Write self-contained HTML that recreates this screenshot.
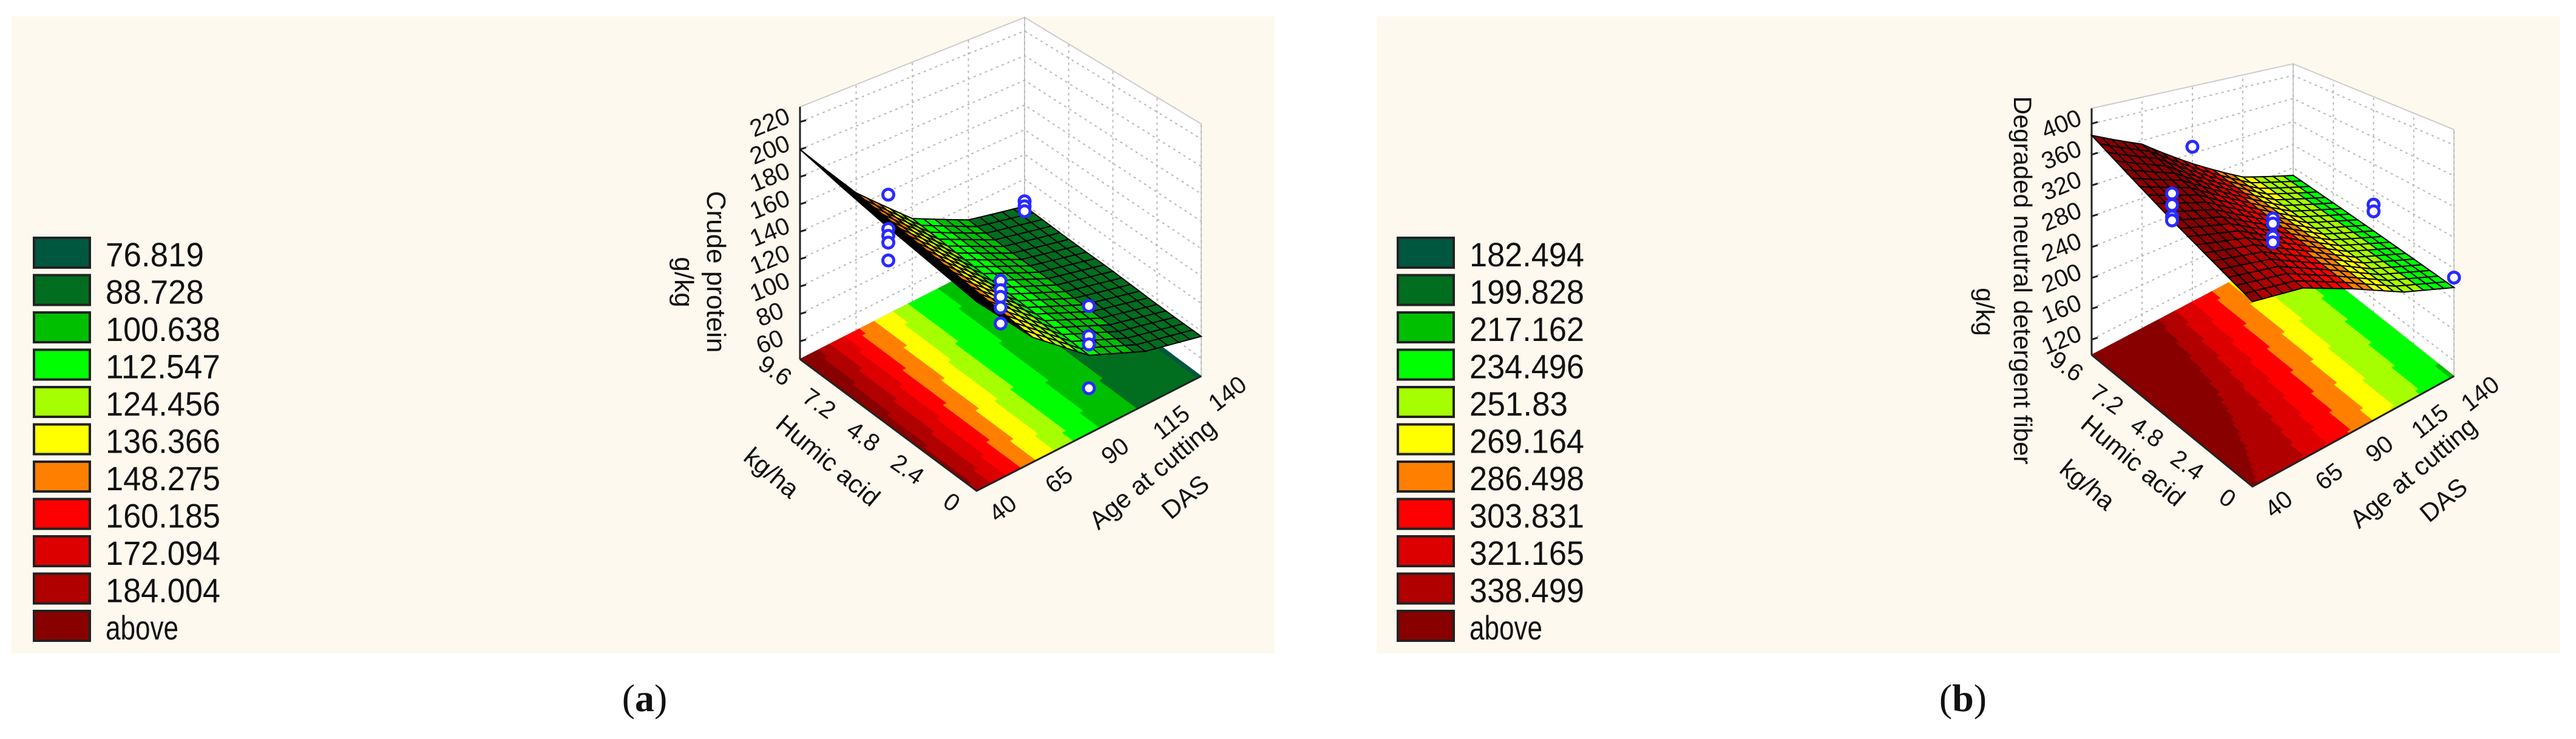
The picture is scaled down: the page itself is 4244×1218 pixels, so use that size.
<!DOCTYPE html>
<html><head><meta charset="utf-8">
<style>
html,body{margin:0;padding:0;background:#fff;}
svg{display:block;}
text{font-family:"Liberation Sans",Arial,sans-serif;fill:#111;}
.cap{font-family:"Liberation Serif",serif;font-size:64px;}
</style></head>
<body>
<svg id="fig" width="4244" height="1218" viewBox="0 0 4244 1218" xmlns="http://www.w3.org/2000/svg">
  <rect x="19" y="27" width="2081" height="1050" fill="#fdf9ef"/>
  <rect x="2268" y="27" width="1950" height="1050" fill="#fdf9ef"/>
  <g id="panelA"></g>
  <g id="panelB"></g>
  <text class="cap" x="1062" y="1172" text-anchor="middle">(<tspan font-weight="bold">a</tspan>)</text>
  <text class="cap" x="3234" y="1172" text-anchor="middle">(<tspan font-weight="bold">b</tspan>)</text>
</svg>
<script>
// ---------- data: panel A (crude protein) ----------
const agesA = [40, 65, 90, 115, 140];
const haA = [0, 2.4, 4.8, 7.2, 9.6];
const zA = [
  [185, 138, 104, 86, 76],
  [188, 141, 106, 87, 76],
  [191, 144, 107, 88, 77],
  [195, 147, 109, 88, 77],
  [200, 150, 111, 89, 78]
];
const legendA = [76.819, 88.728, 100.638, 112.547, 124.456, 136.366, 148.275, 160.185, 172.094, 184.004];
const zTicksA = [60, 80, 100, 120, 140, 160, 180, 200, 220];
const ptsAgeA = [40, 40, 40, 40, 40, 140, 140, 140, 90, 90, 90, 90, 90, 90, 90, 90, 90];
const ptsHaA = [4.8, 4.8, 4.8, 4.8, 4.8, 9.6, 9.6, 9.6, 4.8, 4.8, 4.8, 4.8, 4.8, 0, 0, 0, 0];
const ptsZA = [215, 190, 185, 180, 167, 82, 78, 74, 112, 105, 100, 92, 80, 140, 118, 112, 80];

// ---------- data: panel B (degraded NDF) ----------
const agesB = [40, 65, 90, 115, 140];
const haB = [0, 2.4, 4.8, 7.2, 9.6];
const zB = [
  [340, 322, 285, 245, 215],
  [350, 330, 290, 248, 218],
  [360, 337, 295, 251, 221],
  [372, 346, 300, 254, 224],
  [385, 355, 305, 257, 227]
];
const legendB = [182.494, 199.828, 217.162, 234.496, 251.83, 269.164, 286.498, 303.831, 321.165, 338.499];
const zTicksB = [120, 160, 200, 240, 280, 320, 360, 400];
const ptsAgeB = [40, 40, 40, 40, 90, 90, 90, 90, 90, 140, 140, 140];
const ptsHaB = [4.8, 4.8, 4.8, 4.8, 9.6, 4.8, 4.8, 4.8, 4.8, 4.8, 4.8, 0];
const ptsZB = [395, 380, 365, 360, 330, 305, 298, 280, 272, 260, 250, 228];

const ageTicks = [40, 65, 90, 115, 140];
const haTicks = [0, 2.4, 4.8, 7.2, 9.6];
const legendColors = ['#00573f', '#006e1e', '#00bf00', '#00ff00', '#a6ff00', '#ffff00', '#ff8000', '#ff0000', '#dc0000', '#b00000', '#880000'];

const NS = 'http://www.w3.org/2000/svg';
function mk(tag, attrs, parent) {
  const e = document.createElementNS(NS, tag);
  for (const k in attrs) e.setAttribute(k, attrs[k]);
  parent.appendChild(e);
  return e;
}
function interp(grid, ages, has, a, h) {
  let i = 0; while (i < ages.length - 2 && a > ages[i + 1]) i++;
  let j = 0; while (j < has.length - 2 && h > has[j + 1]) j++;
  const ta = (a - ages[i]) / (ages[i + 1] - ages[i]);
  const th = (h - has[j]) / (has[j + 1] - has[j]);
  const z00 = grid[j][i], z01 = grid[j][i + 1], z10 = grid[j + 1][i], z11 = grid[j + 1][i + 1];
  return (z00 * (1 - ta) + z01 * ta) * (1 - th) + (z10 * (1 - ta) + z11 * ta) * th;
}
function colorFor(z, thr) {
  for (let i = 0; i < thr.length; i++) if (z <= thr[i]) return legendColors[i];
  return legendColors[thr.length];
}

function drawPanel(root, cfg, ages, has, grid, thr, zTicks, pAge, pHa, pZ) {
  const {F, R, L, B, zf, k, zTop, sB} = cfg;
  const aMin = ages[0], aMax = ages[ages.length - 1], hMax = has[has.length - 1];
  function proj(a, h, z) {
    const u = (a - aMin) / (aMax - aMin), v = h / hMax;
    const x = F[0] * (1 - u) * (1 - v) + R[0] * u * (1 - v) + L[0] * (1 - u) * v + B[0] * u * v;
    const y = F[1] * (1 - u) * (1 - v) + R[1] * u * (1 - v) + L[1] * (1 - u) * v + B[1] * u * v;
    const s = 1 + (sB - 1) * u * v;
    return [x, y - (z - zf) * k * s];
  }
  const pts = arr => arr.map(p => p[0].toFixed(1) + ',' + p[1].toFixed(1)).join(' ');

  const walls = mk('g', {}, root);
  
  
  const w1 = mk('polygon', {points: pts([proj(aMin, hMax, zf), proj(aMax, hMax, zf), proj(aMax, hMax, zTop), proj(aMin, hMax, zTop)]), fill: '#ffffff', stroke: '#ccc', 'stroke-width': 2}, walls);
  
  
  const w2 = mk('polygon', {points: pts([proj(aMax, hMax, zf), proj(aMax, 0, zf), proj(aMax, 0, zTop), proj(aMax, hMax, zTop)]), fill: '#ffffff', stroke: '#ccc', 'stroke-width': 2}, walls);
  
  
  const gStyle = {stroke: '#b8b8b8', 'stroke-width': 2, 'stroke-dasharray': '4 6', fill: 'none'};
  zTicks.forEach(t => {
    const l1 = mk('polyline', Object.assign({points: pts([proj(aMin, hMax, t), proj(aMax, hMax, t), proj(aMax, 0, t)])}, gStyle), walls);
    
    
  });
  ageTicks.forEach(t => {
    const p0 = proj(t, hMax, zf), p1 = proj(t, hMax, zTop);
    const l = mk('line', Object.assign({x1: p0[0], y1: p0[1], x2: p1[0], y2: p1[1]}, gStyle), walls);
    
    
  });
  haTicks.forEach(t => {
    const p0 = proj(aMax, t, zf), p1 = proj(aMax, t, zTop);
    const l = mk('line', Object.assign({x1: p0[0], y1: p0[1], x2: p1[0], y2: p1[1]}, gStyle), walls);
    
    
  });

  const floor = mk('g', {}, root);
  
  
  const N = 60;
  for (let i = 0; i < N; i++) for (let j = 0; j < N; j++) {
    const a0 = aMin + (aMax - aMin) * i / N, a1 = aMin + (aMax - aMin) * (i + 1) / N;
    const h0 = hMax * j / N, h1 = hMax * (j + 1) / N;
    const c = colorFor(interp(grid, ages, has, (a0 + a1) / 2, (h0 + h1) / 2), thr);
    const p = mk('polygon', {points: pts([proj(a0, h0, zf), proj(a1, h0, zf), proj(a1, h1, zf), proj(a0, h1, zf)]), fill: c, stroke: c, 'stroke-width': 1.2}, floor);
    
    
  }
  const fe = mk('polyline', {points: pts([proj(aMin, hMax, zf), proj(aMin, 0, zf), proj(aMax, 0, zf)]), fill: 'none', stroke: '#222', 'stroke-width': 3}, root);
  
  

  const ax = mk('g', {}, root);
  
  
  const base = proj(aMin, hMax, zf), top = proj(aMin, hMax, zTop);
  mk('line', {x1: base[0], y1: base[1], x2: top[0], y2: top[1], stroke: '#222', 'stroke-width': 3}, ax);
  zTicks.forEach(t => {
    const p = proj(aMin, hMax, t);
    mk('line', {x1: p[0], y1: p[1], x2: p[0] + 10, y2: p[1] - 3, stroke: '#222', 'stroke-width': 3}, ax);
    const tx = mk('text', {x: p[0] - 50, y: p[1] + 14, 'font-size': 40, 'text-anchor': 'middle', transform: `rotate(-22 ${p[0] - 50} ${p[1]})`}, ax);
    tx.textContent = t;
    
    
  });
  haTicks.forEach(t => {
    const p = proj(aMin, t, zf);
    const tx = mk('text', {x: p[0] - 42, y: p[1] + 32, 'font-size': 40, 'text-anchor': 'middle', transform: `rotate(35 ${p[0] - 42} ${p[1] + 20})`}, ax);
    tx.textContent = t;
    
    
  });
  ageTicks.forEach(t => {
    const p = proj(t, 0, zf);
    const tx = mk('text', {x: p[0] + 44, y: p[1] + 42, 'font-size': 40, 'text-anchor': 'middle', transform: `rotate(-38 ${p[0] + 44} ${p[1] + 30})`}, ax);
    tx.textContent = t;
    
    
  });

  const surf = mk('g', {}, root);
  
  
  const M = 20, quads = [];
  for (let i = 0; i < M; i++) for (let j = 0; j < M; j++) {
    const a0 = aMin + (aMax - aMin) * i / M, a1 = aMin + (aMax - aMin) * (i + 1) / M;
    const h0 = hMax * j / M, h1 = hMax * (j + 1) / M;
    const zz = [interp(grid, ages, has, a0, h0), interp(grid, ages, has, a1, h0), interp(grid, ages, has, a1, h1), interp(grid, ages, has, a0, h1)];
    quads.push({d: i + j, p: [proj(a0, h0, zz[0]), proj(a1, h0, zz[1]), proj(a1, h1, zz[2]), proj(a0, h1, zz[3])], z: (zz[0] + zz[1] + zz[2] + zz[3]) / 4});
  }
  quads.sort((q1, q2) => q2.d - q1.d);
  quads.forEach(q => {
    const p = mk('polygon', {points: pts(q.p), fill: colorFor(q.z, thr), stroke: '#000', 'stroke-width': 2}, surf);
    
    
  });

  const og = mk('g', {}, root);
  
  
  pAge.forEach((a, i) => {
    const p = proj(a, pHa[i], pZ[i]);
    const c = mk('circle', {cx: p[0], cy: p[1], r: 9, fill: '#ffffff', stroke: '#2a2aff', 'stroke-width': 5}, og);
    
    
  });
}

function drawLegend(root, x, y, thr) {
  const g = mk('g', {}, root);
  
  
  const labels = thr.map(String).concat(['above']);
  labels.forEach((lab, i) => {
    const yy = y + i * 61.5;
    const r = mk('rect', {x: x, y: yy, width: 92, height: 49, fill: legendColors[i], stroke: '#222', 'stroke-width': 4}, g);
    
    
    const t = mk('text', {x: x + 118, y: yy + 47, 'font-size': 56, 'textLength': lab === 'above' ? 120 : 162 * lab.length / 6, lengthAdjust: 'spacingAndGlyphs'}, g);
    t.textContent = lab;
    
    
  });
}

function vtext(root, x, y, s, size, name) {
  const t = mk('text', {x: x, y: y, 'font-size': size, 'text-anchor': 'middle', transform: `rotate(90 ${x} ${y})`}, root);
  t.textContent = s;
  
  
}
function rtext(root, x, y, s, size, ang, name) {
  const t = mk('text', {x: x, y: y, 'font-size': size, 'text-anchor': 'middle', transform: `rotate(${ang} ${x} ${y})`}, root);
  t.textContent = s;
  
  
}

const pA = document.getElementById('panelA');
drawPanel(pA, {F: [1609, 809], R: [1979, 620], L: [1318, 592], B: [1688, 403], zf: 47, k: 2.26, zTop: 231, sB: 0.9},
  agesA, haA, zA, legendA, zTicksA, ptsAgeA, ptsHaA, ptsZA);
drawLegend(pA, 56, 392, legendA);
vtext(pA, 1165, 448, 'Crude protein', 44, 'z-axis-title');
vtext(pA, 1112, 465, 'g/kg', 44, 'z-axis-unit');
rtext(pA, 1355, 770, 'Humic acid', 42, 40, 'ha-axis-title');
rtext(pA, 1262, 790, 'kg/ha', 42, 40, 'ha-axis-unit');
rtext(pA, 1908, 792, 'Age at cutting', 42, -40, 'age-axis-title');
rtext(pA, 1962, 830, 'DAS', 42, -40, 'age-axis-unit');

const pB = document.getElementById('panelB');
drawPanel(pB, {F: [3711, 802], R: [4043, 620], L: [3446, 585], B: [3778, 410], zf: 100, k: 1.27, zTop: 420, sB: 0.75},
  agesB, haB, zB, legendB, zTicksB, ptsAgeB, ptsHaB, ptsZB);
drawLegend(pB, 2303, 392, legendB);
vtext(pB, 3318, 462, 'Degraded neutral detergent fiber', 42, 'z-axis-title');
vtext(pB, 3256, 514, 'g/kg', 42, 'z-axis-unit');
rtext(pB, 3505, 770, 'Humic acid', 42, 40, 'ha-axis-title');
rtext(pB, 3430, 810, 'kg/ha', 42, 40, 'ha-axis-unit');
rtext(pB, 3985, 790, 'Age at cutting', 42, -40, 'age-axis-title');
rtext(pB, 4035, 835, 'DAS', 42, -40, 'age-axis-unit');
</script>
</body></html>
